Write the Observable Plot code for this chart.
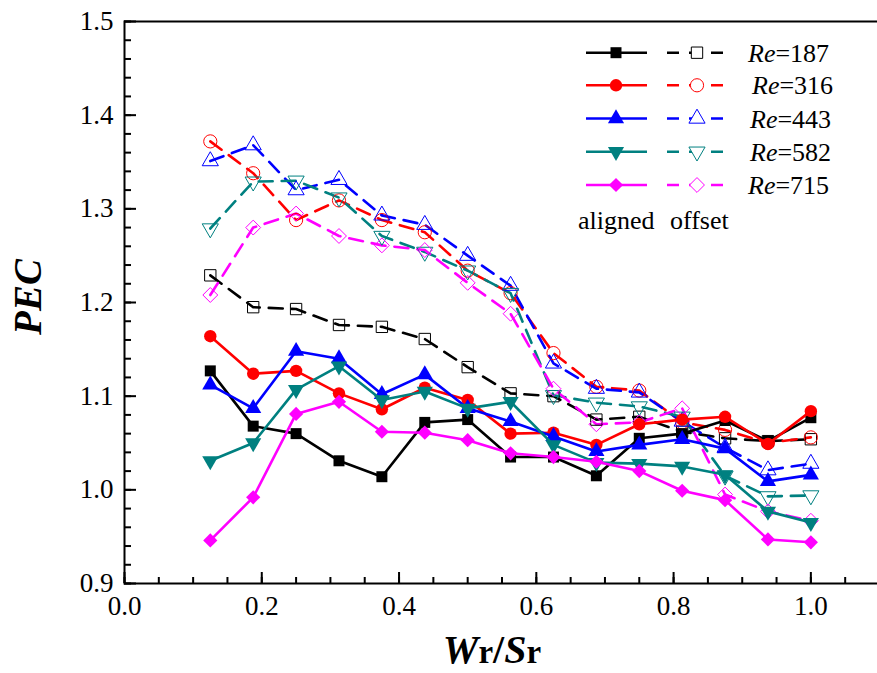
<!DOCTYPE html>
<html>
<head>
<meta charset="utf-8">
<script src="https://cdn.jsdelivr.net/npm/d3@7"></script>
<script src="https://cdn.jsdelivr.net/npm/@observablehq/plot@0.6"></script>
<style>
  html, body { margin: 0; padding: 0; background: #fff; }
  svg { display: block; }
</style>
</head>
<body>
<script>
// ---- data ----
const xs = [0.125, 0.1875, 0.25, 0.3125, 0.375, 0.4375, 0.5, 0.5625, 0.625, 0.6875, 0.75, 0.8125, 0.875, 0.9375, 1.0];

const reLabels = ["187", "316", "443", "582", "715"];

const aligned187 = [1.127, 1.068, 1.060, 1.031, 1.014, 1.072, 1.075, 1.035, 1.035, 1.015, 1.055, 1.060, 1.074, 1.052, 1.077];
const aligned316 = [1.164, 1.124, 1.127, 1.103, 1.086, 1.109, 1.096, 1.060, 1.061, 1.048, 1.070, 1.075, 1.078, 1.049, 1.084];
const aligned443 = [1.112, 1.087, 1.148, 1.140, 1.102, 1.123, 1.087, 1.073, 1.057, 1.041, 1.048, 1.054, 1.044, 1.009, 1.016];
const aligned582 = [1.031, 1.050, 1.107, 1.132, 1.096, 1.105, 1.087, 1.094, 1.048, 1.029, 1.028, 1.025, 1.016, 0.977, 0.965];
const aligned715 = [0.946, 0.992, 1.081, 1.094, 1.062, 1.061, 1.053, 1.039, 1.035, 1.030, 1.020, 0.999, 0.989, 0.947, 0.944];

const offset187 = [1.229, 1.195, 1.193, 1.176, 1.174, 1.161, 1.131, 1.103, 1.100, 1.075, 1.078, 1.062, 1.055, 1.052, 1.054];
const offset316 = [1.372, 1.338, 1.288, 1.309, 1.288, 1.275, 1.234, 1.210, 1.146, 1.110, 1.106, 1.072, 1.064, 1.050, 1.056];
const offset443 = [1.351, 1.368, 1.320, 1.331, 1.293, 1.283, 1.250, 1.218, 1.135, 1.108, 1.104, 1.073, 1.045, 1.021, 1.028];
const offset582 = [1.279, 1.329, 1.330, 1.312, 1.271, 1.254, 1.234, 1.210, 1.101, 1.093, 1.089, 1.078, 1.015, 0.993, 0.994];
const offset715 = [1.208, 1.280, 1.295, 1.271, 1.261, 1.256, 1.221, 1.188, 1.108, 1.070, 1.072, 1.087, 0.995, 0.977, 0.967];

const xMajorTicks = [0, 0.2, 0.4, 0.6, 0.8, 1.0];
const xMinorTicks = d3.range(0, 23).map(i => +(i * 0.05).toFixed(2)).filter(v => v <= 1.1);
const yMajorTicks = [0.9, 1.0, 1.1, 1.2, 1.3, 1.4, 1.5];
const yMinorTicks = d3.range(0, 31).map(i => +(0.9 + i * 0.02).toFixed(2));

// ---- styles ----
const colors = ["#000000", "#ff0000", "#0000ff", "#008080", "#ff00ff"];
const symbols = ["square", "circle", "triangle", "triangle", "diamond2"];
const rotations = [0, 0, 0, 180, 0];
const rFilled = [6.2, 6.2, 6.0, 6.0, 6.4];
const rOpen = [6.4, 6.6, 6.0, 6.0, 6.7];

const alignedSeries = [aligned187, aligned316, aligned443, aligned582, aligned715];
const offsetSeries = [offset187, offset316, offset443, offset582, offset715];

const toRows = vals => xs.map((x, i) => ({x, y: vals[i]}));

const W = 877, H = 673;
const mL = 124, mT = 21, mB = 90, mR = -2;
const plotH = H - mT - mB;
const plotW = W - mL - mR;

const marks = [];

// offset series (dashed, open markers)
offsetSeries.forEach((vals, k) => {
  const rows = toRows(vals);
  marks.push(Plot.line(rows, {x: "x", y: "y", stroke: colors[k], strokeWidth: 2.6, strokeDasharray: "14,9"}));
});
offsetSeries.forEach((vals, k) => {
  const rows = toRows(vals);
  marks.push(Plot.dot(rows, {x: "x", y: "y", symbol: symbols[k], rotate: rotations[k], r: rOpen[k], fill: "none", stroke: colors[k], strokeWidth: 1}));
});
// aligned series (solid, filled markers)
alignedSeries.forEach((vals, k) => {
  const rows = toRows(vals);
  marks.push(Plot.line(rows, {x: "x", y: "y", stroke: colors[k], strokeWidth: 2.6}));
  marks.push(Plot.dot(rows, {x: "x", y: "y", symbol: symbols[k], rotate: rotations[k], r: rFilled[k], fill: colors[k], stroke: "none"}));
});

const serif = "'Liberation Serif', 'Times New Roman', serif";

const chart = Plot.plot({
  width: W,
  height: H,
  marginLeft: mL,
  marginTop: mT,
  marginBottom: mB,
  marginRight: mR,
  style: {fontFamily: serif, fontSize: "27px", background: "#fff", color: "#000"},
  x: {domain: [0, 1.1]},
  y: {domain: [0.9, 1.5]},
  marks: [
    ...marks,
    // inward ticks
    Plot.ruleX(xMinorTicks, {x: d => d, insetTop: plotH - 6, stroke: "#000", strokeWidth: 2}),
    Plot.ruleX(xMajorTicks, {x: d => d, insetTop: plotH - 11, stroke: "#000", strokeWidth: 2}),
    Plot.ruleY(yMinorTicks, {y: d => d, insetRight: plotW - 7, stroke: "#000", strokeWidth: 2}),
    Plot.ruleY(yMajorTicks, {y: d => d, insetRight: plotW - 12, stroke: "#000", strokeWidth: 2}),
    Plot.axisX(xMajorTicks, {tickSize: 0, tickPadding: 12, tickFormat: d3.format(".1f"), fontSize: 27, label: null}),
    Plot.axisY(yMajorTicks, {tickSize: 0, tickPadding: 11, tickFormat: d3.format(".1f"), fontSize: 27, label: null}),
    Plot.frame({stroke: "#000", strokeWidth: 2})
  ]
});

document.body.appendChild(chart);

// ---- axis titles & legend ----
const svg = d3.select(chart);

svg.append("text")
  .attr("transform", "translate(41,297) rotate(-90)")
  .attr("text-anchor", "middle")
  .attr("font-family", serif)
  .attr("font-size", 39)
  .attr("font-weight", "bold")
  .attr("font-style", "italic")
  .attr("fill", "#000")
  .text("PEC");

const xt = svg.append("text")
  .attr("x", 492).attr("y", 663)
  .attr("text-anchor", "middle")
  .attr("font-family", serif)
  .attr("font-size", 40)
  .attr("font-weight", "bold")
  .attr("fill", "#000");
xt.append("tspan").attr("font-style", "italic").text("W");
xt.append("tspan").attr("font-size", 33).text("r");
xt.append("tspan").text("/");
xt.append("tspan").attr("font-style", "italic").text("S");
xt.append("tspan").attr("font-size", 33).text("r");

const legendRowsY = [52.7, 85.3, 118.5, 151.7, 185];
const legendTextX = [748, 752, 750, 750, 748];
const symbolFns = {square: d3.symbolSquare, circle: d3.symbolCircle, triangle: d3.symbolTriangle, diamond2: d3.symbolDiamond2};
const lg = svg.append("g").attr("text-anchor", "start");
legendRowsY.forEach((yy, k) => {
  lg.append("line").attr("x1", 586).attr("x2", 647).attr("y1", yy).attr("y2", yy)
    .attr("stroke", colors[k]).attr("stroke-width", 2.6);
  lg.append("line").attr("x1", 667).attr("x2", 729).attr("y1", yy).attr("y2", yy)
    .attr("stroke", colors[k]).attr("stroke-width", 2.6).attr("stroke-dasharray", "12,10");
  const sym = symbolFns[symbols[k]];
  lg.append("path")
    .attr("d", d3.symbol(sym, Math.PI * rFilled[k] * rFilled[k])())
    .attr("transform", `translate(616,${yy}) rotate(${rotations[k]})`)
    .attr("fill", colors[k]);
  lg.append("path")
    .attr("d", d3.symbol(sym, Math.PI * rOpen[k] * rOpen[k])())
    .attr("transform", `translate(697,${yy}) rotate(${rotations[k]})`)
    .attr("fill", "#fff").attr("stroke", colors[k]).attr("stroke-width", 1);
  const t = lg.append("text").attr("x", legendTextX[k]).attr("y", yy + 9)
    .attr("text-anchor", "start")
    .attr("font-family", serif).attr("font-size", 26).attr("fill", "#000");
  t.append("tspan").attr("font-style", "italic").text("Re");
  t.append("tspan").text("=" + reLabels[k]);
});
lg.append("text").attr("x", 578).attr("y", 229).attr("text-anchor", "start")
  .attr("font-family", serif).attr("font-size", 26).attr("fill", "#000").text("aligned");
lg.append("text").attr("x", 670).attr("y", 229).attr("text-anchor", "start")
  .attr("font-family", serif).attr("font-size", 26).attr("fill", "#000").text("offset");
</script>
</body>
</html>
